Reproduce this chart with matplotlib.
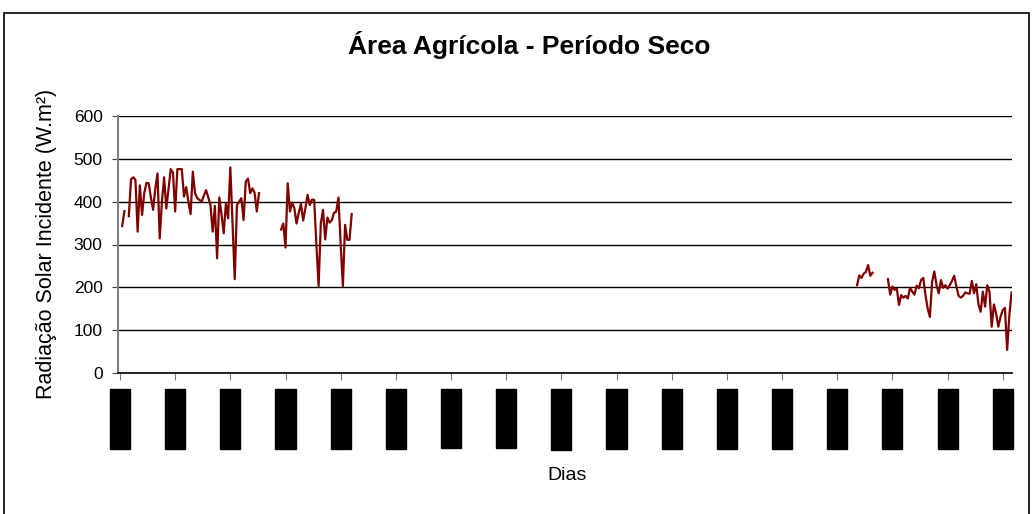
import numpy as np
import matplotlib.pyplot as plt
from matplotlib.patches import Rectangle

plt.rcParams['font.family'] = ['Liberation Sans', 'DejaVu Sans']

# radiação medida por trechos (índice inicial + valores diários em W/m²)
inicio_1 = 1
radiacao_1 = [343, 378, np.nan, 366, 452, 457, 451, 330, 438, 369, 420, 444, 443,
              410, 381, 430, 466, 314, 400, 457, 384, 430, 476, 468, 377, 476,
              476, 476, 412, 434, 400, 371, 470, 420, 408, 404, 400, 414, 427,
              410, 392, 330, 390, 268, 410, 370, 326, 396, 361, 480, 350, 219,
              392, 400, 408, 357, 447, 454, 420, 431, 421, 377, 420]

inicio_2 = 73
radiacao_2 = [335, 349, 293, 443, 377, 398, 385, 349, 374, 395, 356, 384, 416,
              392, 405, 404, 300, 203, 349, 381, 312, 363, 351, 357, 374, 377,
              410, 300, 203, 346, 311, 311, 371]

inicio_3 = 334
radiacao_3 = [205, 228, 222, 232, 236, 252, 227, 234]

inicio_4 = 348
radiacao_4 = [219, 183, 202, 194, 197, 159, 182, 176, 180, 174, 199, 190, 183,
              204, 198, 217, 222, 182, 150, 131, 213, 237, 205, 186, 217, 199,
              205, 197, 205, 215, 227, 202, 180, 176, 180, 188, 186, 185, 215,
              186, 207, 160, 143, 190, 155, 205, 190, 108, 160, 139, 108, 131,
              147, 152, 54, 135, 188]

n_dias = 405
datas = ['05/06/03', '30/06/03', '25/07/03', '19/08/03', '13/09/03',
         '08/10/03', '02/11/03', '27/11/03', '22/12/03', '16/01/04',
         '10/02/04', '06/03/04', '31/03/04', '25/04/04', '20/05/04',
         '14/06/04', '09/07/04']
passo_datas = 25

serie = np.full(n_dias, np.nan)
for inicio, valores in [(inicio_1, radiacao_1), (inicio_2, radiacao_2),
                        (inicio_3, radiacao_3), (inicio_4, radiacao_4)]:
    serie[inicio:inicio + len(valores)] = valores
dias = np.arange(n_dias)

W, H = 1032, 514
fig = plt.figure(figsize=(W / 100, H / 100), dpi=100)
ax = fig.add_axes([118 / W, 1 - 373 / H, (1012 - 118) / W, (373 - 116) / H])

ax.plot(dias, serie, color='#800000', lw=1.6)

ax.set_xlim(-0.9, 404.2)
ax.set_ylim(0, 600)
ax.set_yticks(np.arange(0, 601, 100))
ax.yaxis.grid(True, color='black', lw=1)
ax.set_axisbelow(True)

for lado in ['top', 'right']:
    ax.spines[lado].set_visible(False)
ax.spines['left'].set_color('#808080')
ax.spines['left'].set_linewidth(1.5)
ax.spines['bottom'].set_color('black')
ax.spines['bottom'].set_linewidth(1.2)

ax.tick_params(axis='y', length=4, color='#404040', labelsize=12.5, pad=7)
ax.set_xticks(np.arange(0, len(datas) * passo_datas, passo_datas))
ax.set_xticklabels(datas, rotation=90, fontsize=10, color='black')
ax.tick_params(axis='x', length=5, color='#808080', pad=8.7)
for rotulo in ax.get_xticklabels():
    rotulo.set_bbox(dict(boxstyle='square,pad=0.22', fc='black', ec='black'))

fig.text(529 / W, 1 - 45 / H, 'Área Agrícola - Período Seco', ha='center',
         va='center', fontsize=19, fontweight='bold')
fig.text(47 / W, 1 - 244 / H, 'Radiação Solar Incidente (W.m²)', ha='center',
         va='center', rotation=90, fontsize=15.5)
fig.text(567 / W, 1 - 476 / H, 'Dias', ha='center', va='center', fontsize=14)

# moldura do gráfico
fig.add_artist(Rectangle((4 / W, -0.1), (1029 - 4) / W, 1 - 13 / H + 0.1,
                         transform=fig.transFigure, fill=False, ec='black', lw=1.2))

fig.savefig('out.png', dpi=100)
